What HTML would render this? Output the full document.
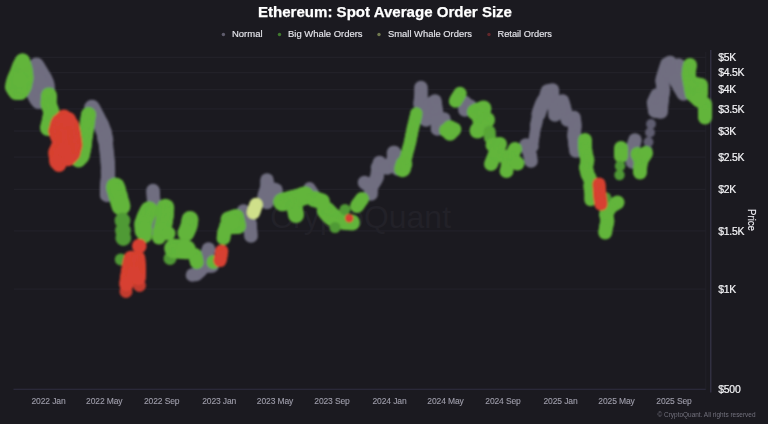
<!DOCTYPE html>
<html><head><meta charset="utf-8"><title>Ethereum: Spot Average Order Size</title>
<style>
html,body{margin:0;padding:0;background:#1b1a20;}
body{width:768px;height:424px;overflow:hidden;font-family:"Liberation Sans",sans-serif;}
svg{display:block;font-family:"Liberation Sans",sans-serif;}
.title{font-size:14.8px;font-weight:bold;fill:#ffffff;stroke:#ffffff;stroke-width:0.25px;}
.lg{font-size:9.9px;fill:#e6e6ec;stroke:#e6e6ec;stroke-width:0.15px;}
.yl{font-size:10.4px;fill:#f4f4f7;letter-spacing:-0.25px;stroke:#f4f4f7;stroke-width:0.2px;}
.xl{font-size:8.5px;fill:#a09fac;letter-spacing:-0.12px;stroke:#a09fac;stroke-width:0.1px;}
.wm{font-size:32px;fill:#222128;}
.cp{font-size:7px;fill:#72717d;}
.pr{font-size:10.5px;fill:#ececf1;stroke:#ececf1;stroke-width:0.15px;}
</style></head><body>
<svg width="768" height="424" viewBox="0 0 768 424">
<defs><filter id="b" x="-5%" y="-5%" width="110%" height="110%"><feGaussianBlur stdDeviation="0.9"/></filter>
<filter id="t" x="-5%" y="-20%" width="110%" height="140%"><feGaussianBlur stdDeviation="0.35"/></filter><filter id="t2" x="-100%" y="-100%" width="300%" height="300%"><feGaussianBlur stdDeviation="0.5"/></filter></defs>
<rect width="768" height="424" fill="#1b1a20"/>
<line x1="14" x2="706" y1="57.4" y2="57.4" stroke="#222128" stroke-width="1.3"/><line x1="14" x2="706" y1="72.6" y2="72.6" stroke="#222128" stroke-width="1.3"/><line x1="14" x2="706" y1="89.6" y2="89.6" stroke="#222128" stroke-width="1.3"/><line x1="14" x2="706" y1="108.8" y2="108.8" stroke="#222128" stroke-width="1.3"/><line x1="14" x2="706" y1="131.0" y2="131.0" stroke="#222128" stroke-width="1.3"/><line x1="14" x2="706" y1="157.2" y2="157.2" stroke="#222128" stroke-width="1.3"/><line x1="14" x2="706" y1="189.4" y2="189.4" stroke="#222128" stroke-width="1.3"/><line x1="14" x2="706" y1="230.8" y2="230.8" stroke="#222128" stroke-width="1.3"/><line x1="14" x2="706" y1="289.2" y2="289.2" stroke="#222128" stroke-width="1.3"/>
<line x1="13.5" x2="706" y1="389.2" y2="389.2" stroke="#302f42" stroke-width="1.1"/>
<line x1="705.8" x2="705.8" y1="52" y2="389.5" stroke="#222129" stroke-width="1"/>
<line x1="710.8" x2="710.8" y1="50" y2="392.5" stroke="#37364a" stroke-width="1.2"/>
<text x="270" y="227.5" class="wm" textLength="181" lengthAdjust="spacingAndGlyphs">CryptoQuant</text>
<g filter="url(#b)">
<g fill="#706e80">
<circle cx="36.5" cy="65.0" r="7.5"/>
<circle cx="37.8" cy="67.0" r="7.5"/>
<circle cx="39.0" cy="69.0" r="7.5"/>
<circle cx="40.5" cy="71.5" r="7.5"/>
<circle cx="42.0" cy="74.0" r="7.5"/>
<circle cx="43.5" cy="76.5" r="7.5"/>
<circle cx="45.0" cy="79.0" r="7.5"/>
<circle cx="46.0" cy="81.5" r="7.5"/>
<circle cx="47.0" cy="84.0" r="7.5"/>
<circle cx="47.2" cy="86.0" r="7.5"/>
<circle cx="47.3" cy="88.0" r="7.5"/>
<circle cx="47.5" cy="90.0" r="7.5"/>
<circle cx="37.0" cy="76.0" r="7.5"/>
<circle cx="38.0" cy="78.0" r="7.5"/>
<circle cx="39.0" cy="80.0" r="7.5"/>
<circle cx="40.0" cy="82.0" r="7.5"/>
<circle cx="40.7" cy="84.0" r="7.5"/>
<circle cx="41.3" cy="86.0" r="7.5"/>
<circle cx="42.0" cy="88.0" r="7.5"/>
<circle cx="32.0" cy="91.0" r="7.5"/>
<circle cx="34.0" cy="94.0" r="7.5"/>
<circle cx="35.0" cy="96.0" r="7.5"/>
<circle cx="36.0" cy="98.0" r="7.5"/>
<circle cx="37.2" cy="99.8" r="7.5"/>
<circle cx="38.5" cy="101.5" r="7.5"/>
<circle cx="40.3" cy="100.7" r="7.5"/>
<circle cx="42.2" cy="99.8" r="7.5"/>
<circle cx="44.0" cy="99.0" r="7.5"/>
</g>
<g fill="#706e80">
<circle cx="92.0" cy="107.5" r="7.8"/>
<circle cx="93.0" cy="109.4" r="7.8"/>
<circle cx="94.0" cy="111.2" r="7.8"/>
<circle cx="95.0" cy="113.1" r="7.8"/>
<circle cx="96.0" cy="115.0" r="7.8"/>
<circle cx="97.1" cy="117.1" r="7.8"/>
<circle cx="98.2" cy="119.2" r="7.8"/>
<circle cx="99.4" cy="121.4" r="7.8"/>
<circle cx="100.5" cy="123.5" r="7.8"/>
<circle cx="101.4" cy="125.6" r="7.8"/>
<circle cx="102.2" cy="127.8" r="7.8"/>
<circle cx="103.1" cy="129.9" r="7.8"/>
<circle cx="104.0" cy="132.0" r="7.8"/>
<circle cx="104.4" cy="134.1" r="7.8"/>
<circle cx="104.8" cy="136.2" r="7.8"/>
<circle cx="105.1" cy="138.4" r="7.8"/>
<circle cx="105.5" cy="140.5" r="7.8"/>
</g>
<g fill="#706e80">
<circle cx="105.5" cy="140.5" r="7.2"/>
<circle cx="105.8" cy="142.9" r="7.2"/>
<circle cx="106.0" cy="145.2" r="7.2"/>
<circle cx="106.2" cy="147.6" r="7.2"/>
<circle cx="106.5" cy="150.0" r="7.2"/>
<circle cx="106.8" cy="152.2" r="7.2"/>
<circle cx="107.0" cy="154.5" r="7.2"/>
<circle cx="107.2" cy="156.8" r="7.2"/>
<circle cx="107.5" cy="159.0" r="7.2"/>
<circle cx="107.6" cy="161.2" r="7.2"/>
<circle cx="107.8" cy="163.5" r="7.2"/>
<circle cx="107.9" cy="165.8" r="7.2"/>
<circle cx="108.0" cy="168.0" r="7.2"/>
<circle cx="108.0" cy="170.2" r="7.2"/>
<circle cx="108.0" cy="172.5" r="7.2"/>
<circle cx="108.0" cy="174.8" r="7.2"/>
<circle cx="108.0" cy="177.0" r="7.2"/>
<circle cx="107.8" cy="179.0" r="7.2"/>
<circle cx="107.6" cy="181.0" r="7.2"/>
<circle cx="107.4" cy="183.0" r="7.2"/>
<circle cx="107.2" cy="185.0" r="7.2"/>
<circle cx="107.0" cy="187.0" r="7.2"/>
<circle cx="107.0" cy="189.0" r="7.2"/>
<circle cx="107.0" cy="191.0" r="7.2"/>
<circle cx="107.0" cy="193.0" r="7.2"/>
<circle cx="107.0" cy="195.0" r="7.2"/>
</g>
<g fill="#706e80">
<circle cx="153.0" cy="190.5" r="6.8"/>
<circle cx="153.1" cy="192.6" r="6.8"/>
<circle cx="153.2" cy="194.8" r="6.8"/>
<circle cx="153.4" cy="196.9" r="6.8"/>
<circle cx="153.5" cy="199.0" r="6.8"/>
<circle cx="153.8" cy="201.2" r="6.8"/>
<circle cx="154.1" cy="203.4" r="6.8"/>
<circle cx="154.4" cy="205.6" r="6.8"/>
<circle cx="154.7" cy="207.8" r="6.8"/>
<circle cx="155.0" cy="210.0" r="6.8"/>
<circle cx="155.2" cy="212.0" r="6.8"/>
<circle cx="155.5" cy="214.0" r="6.8"/>
<circle cx="155.8" cy="216.0" r="6.8"/>
<circle cx="156.0" cy="218.0" r="6.8"/>
<circle cx="156.2" cy="220.0" r="6.8"/>
<circle cx="156.5" cy="222.0" r="6.8"/>
<circle cx="156.6" cy="224.2" r="6.8"/>
<circle cx="156.8" cy="226.5" r="6.8"/>
<circle cx="156.9" cy="228.8" r="6.8"/>
<circle cx="157.0" cy="231.0" r="6.8"/>
<circle cx="192.5" cy="275.0" r="6.8"/>
<circle cx="196.0" cy="274.5" r="6.8"/>
<circle cx="198.0" cy="272.8" r="6.8"/>
<circle cx="200.0" cy="271.0" r="6.8"/>
<circle cx="201.3" cy="269.3" r="6.8"/>
<circle cx="202.7" cy="267.7" r="6.8"/>
<circle cx="204.0" cy="266.0" r="6.8"/>
<circle cx="204.6" cy="263.8" r="6.8"/>
<circle cx="205.2" cy="261.5" r="6.8"/>
<circle cx="205.7" cy="259.2" r="6.8"/>
<circle cx="206.3" cy="257.0" r="6.8"/>
<circle cx="206.9" cy="255.0" r="6.8"/>
<circle cx="207.4" cy="253.0" r="6.8"/>
<circle cx="207.9" cy="251.0" r="6.8"/>
<circle cx="208.5" cy="249.0" r="6.8"/>
<circle cx="204.0" cy="266.0" r="6.8"/>
<circle cx="206.0" cy="266.0" r="6.8"/>
<circle cx="208.0" cy="266.0" r="6.8"/>
<circle cx="210.0" cy="266.0" r="6.8"/>
<circle cx="212.0" cy="266.0" r="6.8"/>
<circle cx="243.5" cy="211.0" r="6.8"/>
<circle cx="244.7" cy="213.0" r="6.8"/>
<circle cx="245.8" cy="215.0" r="6.8"/>
<circle cx="247.0" cy="217.0" r="6.8"/>
<circle cx="248.0" cy="219.0" r="6.8"/>
<circle cx="249.0" cy="221.0" r="6.8"/>
<circle cx="250.0" cy="223.0" r="6.8"/>
<circle cx="250.2" cy="225.3" r="6.8"/>
<circle cx="250.3" cy="227.7" r="6.8"/>
<circle cx="250.5" cy="230.0" r="6.8"/>
<circle cx="250.7" cy="232.0" r="6.8"/>
<circle cx="250.8" cy="234.0" r="6.8"/>
<circle cx="251.0" cy="236.0" r="6.8"/>
<circle cx="267.0" cy="180.0" r="6.8"/>
<circle cx="267.0" cy="182.5" r="6.8"/>
<circle cx="267.0" cy="185.0" r="6.8"/>
<circle cx="267.0" cy="187.5" r="6.8"/>
<circle cx="266.2" cy="189.6" r="6.8"/>
<circle cx="265.5" cy="191.8" r="6.8"/>
<circle cx="264.8" cy="193.9" r="6.8"/>
<circle cx="264.0" cy="196.0" r="6.8"/>
<circle cx="265.0" cy="198.2" r="6.8"/>
<circle cx="266.0" cy="200.3" r="6.8"/>
<circle cx="267.0" cy="202.5" r="6.8"/>
<circle cx="267.0" cy="187.5" r="6.8"/>
<circle cx="269.2" cy="188.1" r="6.8"/>
<circle cx="271.5" cy="188.8" r="6.8"/>
<circle cx="273.8" cy="189.4" r="6.8"/>
<circle cx="276.0" cy="190.0" r="6.8"/>
<circle cx="275.0" cy="191.9" r="6.8"/>
<circle cx="274.0" cy="193.8" r="6.8"/>
<circle cx="273.0" cy="195.6" r="6.8"/>
<circle cx="272.0" cy="197.5" r="6.8"/>
<circle cx="364.5" cy="182.5" r="6.8"/>
<circle cx="366.1" cy="183.8" r="6.8"/>
<circle cx="367.8" cy="185.0" r="6.8"/>
<circle cx="369.4" cy="186.2" r="6.8"/>
<circle cx="371.0" cy="187.5" r="6.8"/>
<circle cx="371.0" cy="189.7" r="6.8"/>
<circle cx="371.0" cy="191.8" r="6.8"/>
<circle cx="371.0" cy="194.0" r="6.8"/>
<circle cx="371.0" cy="187.5" r="6.8"/>
<circle cx="372.3" cy="185.3" r="6.8"/>
<circle cx="373.7" cy="183.2" r="6.8"/>
<circle cx="375.0" cy="181.0" r="6.8"/>
<circle cx="376.0" cy="179.2" r="6.8"/>
<circle cx="377.0" cy="177.5" r="6.8"/>
<circle cx="377.2" cy="175.5" r="6.8"/>
<circle cx="377.4" cy="173.5" r="6.8"/>
<circle cx="377.6" cy="171.5" r="6.8"/>
<circle cx="377.8" cy="169.5" r="6.8"/>
<circle cx="378.0" cy="167.5" r="6.8"/>
<circle cx="378.8" cy="165.0" r="6.8"/>
<circle cx="379.5" cy="162.5" r="6.8"/>
<circle cx="377.5" cy="167.5" r="6.8"/>
<circle cx="379.6" cy="167.1" r="6.8"/>
<circle cx="381.8" cy="166.8" r="6.8"/>
<circle cx="383.9" cy="166.4" r="6.8"/>
<circle cx="386.0" cy="166.0" r="6.8"/>
<circle cx="388.0" cy="165.1" r="6.8"/>
<circle cx="390.0" cy="164.2" r="6.8"/>
<circle cx="392.0" cy="163.4" r="6.8"/>
<circle cx="394.0" cy="162.5" r="6.8"/>
<circle cx="394.0" cy="160.5" r="6.8"/>
<circle cx="394.0" cy="158.5" r="6.8"/>
<circle cx="394.0" cy="156.5" r="6.8"/>
<circle cx="394.0" cy="154.5" r="6.8"/>
<circle cx="394.0" cy="152.5" r="6.8"/>
<circle cx="421.0" cy="87.5" r="6.8"/>
<circle cx="421.0" cy="90.0" r="6.8"/>
<circle cx="421.0" cy="92.5" r="6.8"/>
<circle cx="421.0" cy="95.0" r="6.8"/>
<circle cx="420.8" cy="97.2" r="6.8"/>
<circle cx="420.5" cy="99.5" r="6.8"/>
<circle cx="420.2" cy="101.8" r="6.8"/>
<circle cx="420.0" cy="104.0" r="6.8"/>
<circle cx="422.0" cy="105.2" r="6.8"/>
<circle cx="424.0" cy="106.3" r="6.8"/>
<circle cx="426.0" cy="107.5" r="6.8"/>
<circle cx="426.0" cy="109.6" r="6.8"/>
<circle cx="426.0" cy="111.7" r="6.8"/>
<circle cx="426.0" cy="113.8" r="6.8"/>
<circle cx="426.0" cy="115.8" r="6.8"/>
<circle cx="426.0" cy="117.9" r="6.8"/>
<circle cx="426.0" cy="120.0" r="6.8"/>
<circle cx="426.0" cy="107.5" r="6.8"/>
<circle cx="427.8" cy="106.2" r="6.8"/>
<circle cx="429.6" cy="104.9" r="6.8"/>
<circle cx="431.4" cy="103.6" r="6.8"/>
<circle cx="433.2" cy="102.3" r="6.8"/>
<circle cx="435.0" cy="101.0" r="6.8"/>
<circle cx="435.2" cy="103.0" r="6.8"/>
<circle cx="435.5" cy="105.0" r="6.8"/>
<circle cx="435.8" cy="107.0" r="6.8"/>
<circle cx="436.0" cy="109.0" r="6.8"/>
<circle cx="436.3" cy="111.2" r="6.8"/>
<circle cx="436.6" cy="113.4" r="6.8"/>
<circle cx="436.9" cy="115.6" r="6.8"/>
<circle cx="437.2" cy="117.8" r="6.8"/>
<circle cx="437.5" cy="120.0" r="6.8"/>
<circle cx="437.5" cy="122.2" r="6.8"/>
<circle cx="437.5" cy="124.5" r="6.8"/>
<circle cx="437.5" cy="126.8" r="6.8"/>
<circle cx="437.5" cy="129.0" r="6.8"/>
<circle cx="437.5" cy="120.0" r="6.8"/>
<circle cx="439.7" cy="119.7" r="6.8"/>
<circle cx="441.8" cy="119.3" r="6.8"/>
<circle cx="444.0" cy="119.0" r="6.8"/>
<circle cx="465.0" cy="102.5" r="6.8"/>
<circle cx="465.0" cy="105.0" r="6.8"/>
<circle cx="465.0" cy="107.5" r="6.8"/>
<circle cx="465.0" cy="110.0" r="6.8"/>
<circle cx="466.7" cy="108.7" r="6.8"/>
<circle cx="468.3" cy="107.3" r="6.8"/>
<circle cx="470.0" cy="106.0" r="6.8"/>
<circle cx="526.0" cy="145.0" r="6.8"/>
<circle cx="527.0" cy="147.2" r="6.8"/>
<circle cx="528.0" cy="149.5" r="6.8"/>
<circle cx="529.0" cy="151.8" r="6.8"/>
<circle cx="530.0" cy="154.0" r="6.8"/>
<circle cx="530.3" cy="156.3" r="6.8"/>
<circle cx="530.7" cy="158.7" r="6.8"/>
<circle cx="531.0" cy="161.0" r="6.8"/>
<circle cx="526.0" cy="146.0" r="6.8"/>
<circle cx="528.0" cy="146.0" r="6.8"/>
<circle cx="530.0" cy="146.0" r="6.8"/>
<circle cx="532.0" cy="146.0" r="6.8"/>
<circle cx="544.0" cy="102.5" r="6.8"/>
<circle cx="544.6" cy="100.6" r="6.8"/>
<circle cx="545.2" cy="98.7" r="6.8"/>
<circle cx="545.8" cy="96.8" r="6.8"/>
<circle cx="546.3" cy="94.8" r="6.8"/>
<circle cx="546.9" cy="92.9" r="6.8"/>
<circle cx="547.5" cy="91.0" r="6.8"/>
<circle cx="550.0" cy="90.5" r="6.8"/>
<circle cx="552.5" cy="90.0" r="6.8"/>
<circle cx="552.5" cy="92.5" r="6.8"/>
<circle cx="552.5" cy="95.0" r="6.8"/>
<circle cx="552.5" cy="97.5" r="6.8"/>
<circle cx="553.0" cy="99.5" r="6.8"/>
<circle cx="553.5" cy="101.5" r="6.8"/>
<circle cx="554.0" cy="103.5" r="6.8"/>
<circle cx="554.5" cy="105.5" r="6.8"/>
<circle cx="555.0" cy="107.5" r="6.8"/>
<circle cx="555.0" cy="110.0" r="6.8"/>
<circle cx="555.0" cy="112.5" r="6.8"/>
<circle cx="555.0" cy="115.0" r="6.8"/>
<circle cx="555.0" cy="107.5" r="6.8"/>
<circle cx="556.9" cy="105.9" r="6.8"/>
<circle cx="558.8" cy="104.2" r="6.8"/>
<circle cx="560.6" cy="102.6" r="6.8"/>
<circle cx="562.5" cy="101.0" r="6.8"/>
<circle cx="563.1" cy="103.2" r="6.8"/>
<circle cx="563.8" cy="105.5" r="6.8"/>
<circle cx="564.4" cy="107.8" r="6.8"/>
<circle cx="565.0" cy="110.0" r="6.8"/>
<circle cx="565.5" cy="112.0" r="6.8"/>
<circle cx="566.0" cy="114.0" r="6.8"/>
<circle cx="566.5" cy="116.0" r="6.8"/>
<circle cx="567.0" cy="118.0" r="6.8"/>
<circle cx="567.5" cy="120.0" r="6.8"/>
<circle cx="569.7" cy="119.2" r="6.8"/>
<circle cx="571.8" cy="118.3" r="6.8"/>
<circle cx="574.0" cy="117.5" r="6.8"/>
<circle cx="574.3" cy="120.0" r="6.8"/>
<circle cx="574.7" cy="122.5" r="6.8"/>
<circle cx="575.0" cy="125.0" r="6.8"/>
<circle cx="574.8" cy="127.0" r="6.8"/>
<circle cx="574.6" cy="129.0" r="6.8"/>
<circle cx="574.4" cy="131.0" r="6.8"/>
<circle cx="574.2" cy="133.0" r="6.8"/>
<circle cx="574.0" cy="135.0" r="6.8"/>
<circle cx="574.2" cy="137.2" r="6.8"/>
<circle cx="574.5" cy="139.5" r="6.8"/>
<circle cx="574.8" cy="141.8" r="6.8"/>
<circle cx="575.0" cy="144.0" r="6.8"/>
<circle cx="575.3" cy="146.3" r="6.8"/>
<circle cx="575.7" cy="148.7" r="6.8"/>
<circle cx="576.0" cy="151.0" r="6.8"/>
<circle cx="635.0" cy="140.0" r="6.8"/>
<circle cx="634.4" cy="142.2" r="6.8"/>
<circle cx="633.8" cy="144.5" r="6.8"/>
<circle cx="633.1" cy="146.8" r="6.8"/>
<circle cx="632.5" cy="149.0" r="6.8"/>
<circle cx="632.4" cy="151.1" r="6.8"/>
<circle cx="632.2" cy="153.2" r="6.8"/>
<circle cx="632.1" cy="155.4" r="6.8"/>
<circle cx="632.0" cy="157.5" r="6.8"/>
<circle cx="632.2" cy="159.8" r="6.8"/>
<circle cx="632.5" cy="162.0" r="6.8"/>
<circle cx="655.0" cy="111.0" r="6.8"/>
<circle cx="654.6" cy="108.9" r="6.8"/>
<circle cx="654.2" cy="106.8" r="6.8"/>
<circle cx="653.9" cy="104.6" r="6.8"/>
<circle cx="653.5" cy="102.5" r="6.8"/>
<circle cx="654.4" cy="100.6" r="6.8"/>
<circle cx="655.2" cy="98.8" r="6.8"/>
<circle cx="656.1" cy="96.9" r="6.8"/>
<circle cx="657.0" cy="95.0" r="6.8"/>
<circle cx="658.7" cy="96.7" r="6.8"/>
<circle cx="660.3" cy="98.3" r="6.8"/>
<circle cx="662.0" cy="100.0" r="6.8"/>
<circle cx="661.8" cy="102.0" r="6.8"/>
<circle cx="661.7" cy="104.0" r="6.8"/>
<circle cx="661.5" cy="106.0" r="6.8"/>
<circle cx="661.3" cy="108.0" r="6.8"/>
<circle cx="661.2" cy="110.0" r="6.8"/>
<circle cx="661.0" cy="112.0" r="6.8"/>
<circle cx="659.0" cy="111.7" r="6.8"/>
<circle cx="657.0" cy="111.3" r="6.8"/>
<circle cx="655.0" cy="111.0" r="6.8"/>
<circle cx="662.0" cy="100.0" r="6.8"/>
<circle cx="662.3" cy="98.0" r="6.8"/>
<circle cx="662.6" cy="96.0" r="6.8"/>
<circle cx="662.9" cy="94.0" r="6.8"/>
<circle cx="663.2" cy="92.0" r="6.8"/>
<circle cx="663.5" cy="90.0" r="6.8"/>
<circle cx="663.2" cy="88.0" r="6.8"/>
<circle cx="662.9" cy="86.0" r="6.8"/>
<circle cx="662.6" cy="84.0" r="6.8"/>
<circle cx="662.3" cy="82.0" r="6.8"/>
<circle cx="662.0" cy="80.0" r="6.8"/>
<circle cx="662.6" cy="78.0" r="6.8"/>
<circle cx="663.2" cy="76.0" r="6.8"/>
<circle cx="663.8" cy="74.0" r="6.8"/>
<circle cx="664.4" cy="72.0" r="6.8"/>
<circle cx="665.0" cy="70.0" r="6.8"/>
<circle cx="665.7" cy="68.0" r="6.8"/>
<circle cx="666.3" cy="66.0" r="6.8"/>
<circle cx="667.0" cy="64.0" r="6.8"/>
<circle cx="670.0" cy="62.5" r="6.8"/>
<circle cx="670.0" cy="62.5" r="6.8"/>
<circle cx="670.4" cy="64.5" r="6.8"/>
<circle cx="670.8" cy="66.5" r="6.8"/>
<circle cx="671.2" cy="68.5" r="6.8"/>
<circle cx="671.6" cy="70.5" r="6.8"/>
<circle cx="672.0" cy="72.5" r="6.8"/>
<circle cx="673.0" cy="74.6" r="6.8"/>
<circle cx="674.0" cy="76.8" r="6.8"/>
<circle cx="675.0" cy="78.9" r="6.8"/>
<circle cx="676.0" cy="81.0" r="6.8"/>
<circle cx="678.5" cy="65.0" r="6.8"/>
<circle cx="678.5" cy="67.0" r="6.8"/>
<circle cx="678.5" cy="69.0" r="6.8"/>
<circle cx="678.5" cy="71.0" r="6.8"/>
<circle cx="678.5" cy="73.0" r="6.8"/>
<circle cx="678.5" cy="75.0" r="6.8"/>
<circle cx="677.7" cy="77.0" r="6.8"/>
<circle cx="676.8" cy="79.0" r="6.8"/>
<circle cx="676.0" cy="81.0" r="6.8"/>
<circle cx="677.0" cy="82.8" r="6.8"/>
<circle cx="678.0" cy="84.5" r="6.8"/>
<circle cx="679.0" cy="86.2" r="6.8"/>
<circle cx="680.0" cy="88.0" r="6.8"/>
<circle cx="681.2" cy="90.0" r="6.8"/>
<circle cx="682.3" cy="92.0" r="6.8"/>
<circle cx="683.5" cy="94.0" r="6.8"/>
</g>
<g fill="#706e80">
<circle cx="309.5" cy="188.0" r="6"/>
<circle cx="310.8" cy="190.0" r="6"/>
<circle cx="312.2" cy="192.0" r="6"/>
<circle cx="313.5" cy="194.0" r="6"/>
</g>
<g fill="#706e80">
<circle cx="387.0" cy="167.5" r="7.3"/>
<circle cx="390.0" cy="166.0" r="7.3"/>
<circle cx="394.0" cy="153.0" r="7.3"/>
<circle cx="394.1" cy="155.2" r="7.3"/>
<circle cx="394.2" cy="157.5" r="7.3"/>
<circle cx="394.4" cy="159.8" r="7.3"/>
<circle cx="394.5" cy="162.0" r="7.3"/>
<circle cx="395.7" cy="164.2" r="7.3"/>
<circle cx="396.8" cy="166.3" r="7.3"/>
<circle cx="398.0" cy="168.5" r="7.3"/>
</g>
<g fill="#706e80">
<circle cx="533.5" cy="142.0" r="5.3"/>
<circle cx="533.8" cy="139.8" r="5.3"/>
<circle cx="534.1" cy="137.5" r="5.3"/>
<circle cx="534.5" cy="135.2" r="5.3"/>
<circle cx="534.8" cy="133.0" r="5.3"/>
<circle cx="535.1" cy="131.0" r="5.3"/>
<circle cx="535.4" cy="129.0" r="5.3"/>
<circle cx="535.7" cy="127.0" r="5.3"/>
<circle cx="536.0" cy="125.0" r="5.3"/>
</g>
<g fill="#706e80">
<circle cx="538.5" cy="114.0" r="7.2"/>
<circle cx="539.2" cy="112.0" r="7.2"/>
<circle cx="539.8" cy="110.0" r="7.2"/>
<circle cx="540.5" cy="108.0" r="7.2"/>
<circle cx="541.5" cy="105.7" r="7.2"/>
<circle cx="542.5" cy="103.3" r="7.2"/>
<circle cx="543.5" cy="101.0" r="7.2"/>
</g>
<g fill="#706e80">
<circle cx="536.0" cy="125.0" r="6"/>
<circle cx="536.5" cy="122.7" r="6"/>
<circle cx="537.0" cy="120.3" r="6"/>
<circle cx="537.5" cy="118.0" r="6"/>
</g>
<g fill="#5f5d70">
<circle cx="647.5" cy="150.0" r="4.9"/>
<circle cx="648.5" cy="142.0" r="4.9"/>
<circle cx="650.0" cy="132.5" r="4.9"/>
<circle cx="651.0" cy="124.0" r="4.9"/>
</g>
<g fill="#62b53b">
<circle cx="22.5" cy="61.0" r="7.6"/>
<circle cx="21.5" cy="62.8" r="7.6"/>
<circle cx="20.5" cy="64.7" r="7.6"/>
<circle cx="19.5" cy="66.5" r="7.6"/>
<circle cx="18.7" cy="68.8" r="7.6"/>
<circle cx="17.8" cy="71.2" r="7.6"/>
<circle cx="17.0" cy="73.5" r="7.6"/>
<circle cx="16.0" cy="75.7" r="7.6"/>
<circle cx="15.0" cy="77.8" r="7.6"/>
<circle cx="14.0" cy="80.0" r="7.6"/>
<circle cx="13.5" cy="82.3" r="7.6"/>
<circle cx="13.0" cy="84.7" r="7.6"/>
<circle cx="12.5" cy="87.0" r="7.6"/>
<circle cx="13.7" cy="88.8" r="7.6"/>
<circle cx="14.8" cy="90.7" r="7.6"/>
<circle cx="16.0" cy="92.5" r="7.6"/>
<circle cx="18.2" cy="92.5" r="7.6"/>
<circle cx="20.5" cy="92.5" r="7.6"/>
<circle cx="21.7" cy="90.7" r="7.6"/>
<circle cx="22.8" cy="88.8" r="7.6"/>
<circle cx="24.0" cy="87.0" r="7.6"/>
<circle cx="24.5" cy="84.8" r="7.6"/>
<circle cx="25.0" cy="82.5" r="7.6"/>
<circle cx="25.5" cy="80.2" r="7.6"/>
<circle cx="26.0" cy="78.0" r="7.6"/>
<circle cx="25.8" cy="75.8" r="7.6"/>
<circle cx="25.5" cy="73.5" r="7.6"/>
<circle cx="25.2" cy="71.2" r="7.6"/>
<circle cx="25.0" cy="69.0" r="7.6"/>
<circle cx="24.4" cy="67.0" r="7.6"/>
<circle cx="23.8" cy="65.0" r="7.6"/>
<circle cx="23.1" cy="63.0" r="7.6"/>
<circle cx="22.5" cy="61.0" r="7.6"/>
<circle cx="20.0" cy="80.0" r="7.6"/>
</g>
<g fill="#62b53b">
<circle cx="49.0" cy="95.5" r="8"/>
<circle cx="48.9" cy="97.6" r="8"/>
<circle cx="48.8" cy="99.8" r="8"/>
<circle cx="48.6" cy="101.9" r="8"/>
<circle cx="48.5" cy="104.0" r="8"/>
<circle cx="49.2" cy="106.0" r="8"/>
<circle cx="50.0" cy="108.0" r="8"/>
<circle cx="50.8" cy="110.0" r="8"/>
<circle cx="51.5" cy="112.0" r="8"/>
<circle cx="51.1" cy="114.0" r="8"/>
<circle cx="50.7" cy="116.0" r="8"/>
<circle cx="50.3" cy="118.0" r="8"/>
<circle cx="49.9" cy="120.0" r="8"/>
<circle cx="49.5" cy="122.0" r="8"/>
<circle cx="49.0" cy="124.0" r="8"/>
<circle cx="48.5" cy="126.0" r="8"/>
<circle cx="48.0" cy="128.0" r="8"/>
</g>
<g fill="#62b53b">
<circle cx="88.5" cy="114.5" r="7.5"/>
<circle cx="88.2" cy="116.7" r="7.5"/>
<circle cx="87.8" cy="118.8" r="7.5"/>
<circle cx="87.5" cy="121.0" r="7.5"/>
<circle cx="87.2" cy="123.0" r="7.5"/>
<circle cx="87.0" cy="125.0" r="7.5"/>
<circle cx="86.8" cy="127.0" r="7.5"/>
<circle cx="86.5" cy="129.0" r="7.5"/>
<circle cx="86.1" cy="131.4" r="7.5"/>
<circle cx="85.8" cy="133.8" r="7.5"/>
<circle cx="85.4" cy="136.1" r="7.5"/>
<circle cx="85.0" cy="138.5" r="7.5"/>
<circle cx="84.8" cy="140.8" r="7.5"/>
<circle cx="84.5" cy="143.0" r="7.5"/>
<circle cx="84.2" cy="145.2" r="7.5"/>
<circle cx="84.0" cy="147.5" r="7.5"/>
<circle cx="83.5" cy="149.8" r="7.5"/>
<circle cx="83.0" cy="152.0" r="7.5"/>
<circle cx="82.5" cy="154.2" r="7.5"/>
<circle cx="82.0" cy="156.5" r="7.5"/>
<circle cx="80.2" cy="158.2" r="7.5"/>
<circle cx="78.5" cy="160.0" r="7.5"/>
</g>
<g fill="#62b53b">
<circle cx="115.5" cy="187.0" r="9.5"/>
<circle cx="116.2" cy="189.3" r="9.5"/>
<circle cx="116.8" cy="191.7" r="9.5"/>
<circle cx="117.5" cy="194.0" r="9.5"/>
<circle cx="118.2" cy="196.3" r="9.5"/>
<circle cx="118.8" cy="198.7" r="9.5"/>
<circle cx="119.5" cy="201.0" r="9.5"/>
<circle cx="120.2" cy="203.5" r="9.5"/>
<circle cx="121.0" cy="206.0" r="9.5"/>
</g>
<g fill="#4f9a34">
<circle cx="122.5" cy="220.5" r="7.9"/>
<circle cx="123.0" cy="230.5" r="7.9"/>
<circle cx="123.3" cy="238.0" r="7.9"/>
</g>
<g fill="#4f9a34">
<circle cx="120.8" cy="259.5" r="6"/>
</g>
<g fill="#62b53b">
<circle cx="149.0" cy="210.0" r="8.8"/>
<circle cx="148.0" cy="212.0" r="8.8"/>
<circle cx="147.0" cy="214.0" r="8.8"/>
<circle cx="146.0" cy="216.0" r="8.8"/>
<circle cx="145.2" cy="218.0" r="8.8"/>
<circle cx="144.5" cy="220.0" r="8.8"/>
<circle cx="143.8" cy="222.0" r="8.8"/>
<circle cx="143.0" cy="224.0" r="8.8"/>
<circle cx="143.2" cy="226.3" r="8.8"/>
<circle cx="143.3" cy="228.7" r="8.8"/>
<circle cx="143.5" cy="231.0" r="8.8"/>
<circle cx="165.5" cy="207.5" r="8.8"/>
<circle cx="165.4" cy="209.6" r="8.8"/>
<circle cx="165.2" cy="211.8" r="8.8"/>
<circle cx="165.1" cy="213.9" r="8.8"/>
<circle cx="165.0" cy="216.0" r="8.8"/>
<circle cx="164.6" cy="218.2" r="8.8"/>
<circle cx="164.2" cy="220.5" r="8.8"/>
<circle cx="163.9" cy="222.8" r="8.8"/>
<circle cx="163.5" cy="225.0" r="8.8"/>
<circle cx="162.8" cy="227.3" r="8.8"/>
<circle cx="162.2" cy="229.7" r="8.8"/>
<circle cx="161.5" cy="232.0" r="8.8"/>
</g>
<g fill="#62b53b">
<circle cx="145.0" cy="236.0" r="7"/>
<circle cx="159.0" cy="237.5" r="7"/>
<circle cx="168.5" cy="233.5" r="7"/>
<circle cx="195.0" cy="255.0" r="7"/>
<circle cx="195.6" cy="257.3" r="7"/>
<circle cx="196.2" cy="259.7" r="7"/>
<circle cx="196.8" cy="262.0" r="7"/>
</g>
<g fill="#4f9a34">
<circle cx="170.0" cy="258.5" r="6.5"/>
</g>
<g fill="#62b53b">
<circle cx="190.0" cy="219.5" r="8.5"/>
<circle cx="189.7" cy="221.7" r="8.5"/>
<circle cx="189.3" cy="223.8" r="8.5"/>
<circle cx="189.0" cy="226.0" r="8.5"/>
<circle cx="188.0" cy="228.3" r="8.5"/>
<circle cx="187.0" cy="230.7" r="8.5"/>
<circle cx="186.0" cy="233.0" r="8.5"/>
</g>
<g fill="#62b53b">
<circle cx="174.0" cy="248.5" r="9.8"/>
<circle cx="176.0" cy="248.7" r="9.8"/>
<circle cx="178.0" cy="248.8" r="9.8"/>
<circle cx="180.0" cy="249.0" r="9.8"/>
<circle cx="182.0" cy="249.2" r="9.8"/>
<circle cx="184.0" cy="249.3" r="9.8"/>
<circle cx="186.0" cy="249.5" r="9.8"/>
</g>
<g fill="#62b53b">
<circle cx="282.5" cy="202.0" r="9.3"/>
<circle cx="285.0" cy="201.3" r="9.3"/>
<circle cx="287.5" cy="200.7" r="9.3"/>
<circle cx="290.0" cy="200.0" r="9.3"/>
<circle cx="292.0" cy="199.5" r="9.3"/>
<circle cx="294.0" cy="199.0" r="9.3"/>
<circle cx="296.0" cy="198.5" r="9.3"/>
<circle cx="298.0" cy="198.0" r="9.3"/>
<circle cx="300.3" cy="197.2" r="9.3"/>
<circle cx="302.7" cy="196.3" r="9.3"/>
<circle cx="305.0" cy="195.5" r="9.3"/>
<circle cx="326.0" cy="210.5" r="9.3"/>
<circle cx="327.7" cy="212.3" r="9.3"/>
<circle cx="329.3" cy="214.2" r="9.3"/>
<circle cx="331.0" cy="216.0" r="9.3"/>
<circle cx="332.8" cy="217.1" r="9.3"/>
<circle cx="334.5" cy="218.2" r="9.3"/>
<circle cx="336.2" cy="219.4" r="9.3"/>
<circle cx="338.0" cy="220.5" r="9.3"/>
</g>
<g fill="#62b53b">
<circle cx="228.5" cy="219.5" r="8"/>
<circle cx="231.0" cy="218.7" r="8"/>
<circle cx="233.5" cy="217.8" r="8"/>
<circle cx="236.0" cy="217.0" r="8"/>
<circle cx="236.5" cy="219.2" r="8"/>
<circle cx="237.0" cy="221.5" r="8"/>
<circle cx="237.5" cy="223.8" r="8"/>
<circle cx="238.0" cy="226.0" r="8"/>
<circle cx="235.8" cy="226.1" r="8"/>
<circle cx="233.6" cy="226.2" r="8"/>
<circle cx="231.4" cy="226.3" r="8"/>
<circle cx="229.2" cy="226.4" r="8"/>
<circle cx="227.0" cy="226.5" r="8"/>
<circle cx="228.7" cy="225.0" r="8"/>
<circle cx="230.3" cy="223.5" r="8"/>
<circle cx="232.0" cy="222.0" r="8"/>
<circle cx="294.5" cy="206.0" r="8"/>
<circle cx="294.9" cy="208.2" r="8"/>
<circle cx="295.2" cy="210.5" r="8"/>
<circle cx="295.6" cy="212.8" r="8"/>
<circle cx="296.0" cy="215.0" r="8"/>
<circle cx="314.0" cy="199.0" r="8"/>
<circle cx="316.0" cy="199.6" r="8"/>
<circle cx="318.0" cy="200.2" r="8"/>
<circle cx="320.0" cy="200.9" r="8"/>
<circle cx="322.0" cy="201.5" r="8"/>
<circle cx="338.0" cy="220.5" r="8"/>
<circle cx="340.3" cy="221.0" r="8"/>
<circle cx="342.7" cy="221.5" r="8"/>
<circle cx="345.0" cy="222.0" r="8"/>
<circle cx="347.3" cy="222.2" r="8"/>
<circle cx="349.7" cy="222.3" r="8"/>
<circle cx="352.0" cy="222.5" r="8"/>
</g>
<g fill="#4f9a34">
<circle cx="335.0" cy="227.5" r="5.5"/>
<circle cx="345.0" cy="209.5" r="5.5"/>
</g>
<g fill="#62b53b">
<circle cx="402.5" cy="169.0" r="8.3"/>
<circle cx="403.2" cy="166.5" r="8.3"/>
<circle cx="404.0" cy="164.0" r="8.3"/>
</g>
<g fill="#62b53b">
<circle cx="404.0" cy="164.0" r="6.2"/>
<circle cx="404.7" cy="161.8" r="6.2"/>
<circle cx="405.3" cy="159.7" r="6.2"/>
<circle cx="406.0" cy="157.5" r="6.2"/>
<circle cx="406.6" cy="155.4" r="6.2"/>
<circle cx="407.1" cy="153.2" r="6.2"/>
<circle cx="407.7" cy="151.1" r="6.2"/>
<circle cx="408.3" cy="148.9" r="6.2"/>
<circle cx="408.9" cy="146.8" r="6.2"/>
<circle cx="409.4" cy="144.6" r="6.2"/>
<circle cx="410.0" cy="142.5" r="6.2"/>
<circle cx="410.4" cy="140.4" r="6.2"/>
<circle cx="410.8" cy="138.3" r="6.2"/>
<circle cx="411.2" cy="136.2" r="6.2"/>
<circle cx="411.7" cy="134.2" r="6.2"/>
<circle cx="412.1" cy="132.1" r="6.2"/>
<circle cx="412.5" cy="130.0" r="6.2"/>
<circle cx="413.0" cy="128.0" r="6.2"/>
<circle cx="413.5" cy="126.0" r="6.2"/>
<circle cx="414.0" cy="124.0" r="6.2"/>
<circle cx="414.5" cy="122.0" r="6.2"/>
<circle cx="415.0" cy="120.0" r="6.2"/>
<circle cx="415.4" cy="117.8" r="6.2"/>
<circle cx="415.9" cy="115.7" r="6.2"/>
<circle cx="416.3" cy="113.5" r="6.2"/>
</g>
<g fill="#62b53b">
<circle cx="475.0" cy="112.0" r="8"/>
<circle cx="477.1" cy="111.1" r="8"/>
<circle cx="479.2" cy="110.2" r="8"/>
<circle cx="481.4" cy="109.4" r="8"/>
<circle cx="483.5" cy="108.5" r="8"/>
<circle cx="482.8" cy="110.6" r="8"/>
<circle cx="482.1" cy="112.7" r="8"/>
<circle cx="481.4" cy="114.8" r="8"/>
<circle cx="480.7" cy="116.9" r="8"/>
<circle cx="480.0" cy="119.0" r="8"/>
<circle cx="482.3" cy="119.3" r="8"/>
<circle cx="484.7" cy="119.7" r="8"/>
<circle cx="487.0" cy="120.0" r="8"/>
<circle cx="485.6" cy="121.5" r="8"/>
<circle cx="484.3" cy="123.0" r="8"/>
<circle cx="482.9" cy="124.5" r="8"/>
<circle cx="481.6" cy="126.0" r="8"/>
<circle cx="480.2" cy="127.5" r="8"/>
<circle cx="478.9" cy="129.0" r="8"/>
<circle cx="477.5" cy="130.5" r="8"/>
</g>
<g fill="#62b53b">
<circle cx="450.0" cy="127.5" r="7.3"/>
<circle cx="450.0" cy="129.5" r="7.3"/>
<circle cx="450.0" cy="131.5" r="7.3"/>
<circle cx="450.0" cy="133.5" r="7.3"/>
<circle cx="452.0" cy="131.5" r="7.3"/>
<circle cx="454.0" cy="129.5" r="7.3"/>
<circle cx="451.5" cy="129.8" r="7.3"/>
<circle cx="449.0" cy="130.2" r="7.3"/>
<circle cx="446.5" cy="130.5" r="7.3"/>
</g>
<g fill="#62b53b">
<circle cx="460.0" cy="93.5" r="6.7"/>
<circle cx="458.9" cy="95.4" r="6.7"/>
<circle cx="457.8" cy="97.2" r="6.7"/>
<circle cx="456.6" cy="99.1" r="6.7"/>
<circle cx="455.5" cy="101.0" r="6.7"/>
</g>
<g fill="#62b53b">
<circle cx="506.5" cy="171.0" r="7"/>
</g>
<g fill="#62b53b">
<circle cx="589.5" cy="186.0" r="6.2"/>
<circle cx="589.8" cy="188.3" r="6.2"/>
<circle cx="590.2" cy="190.7" r="6.2"/>
<circle cx="590.5" cy="193.0" r="6.2"/>
<circle cx="590.5" cy="195.3" r="6.2"/>
<circle cx="590.5" cy="197.7" r="6.2"/>
<circle cx="590.5" cy="200.0" r="6.2"/>
</g>
<g fill="#58a637">
<circle cx="489.6" cy="131.5" r="6"/>
<circle cx="489.7" cy="133.5" r="6"/>
<circle cx="489.7" cy="135.5" r="6"/>
<circle cx="489.8" cy="137.5" r="6"/>
</g>
<g fill="#62b53b">
<circle cx="213.5" cy="262.0" r="7"/>
<circle cx="223.5" cy="238.0" r="7"/>
<circle cx="223.8" cy="235.7" r="7"/>
<circle cx="224.2" cy="233.3" r="7"/>
<circle cx="224.5" cy="231.0" r="7"/>
<circle cx="357.0" cy="206.0" r="7"/>
<circle cx="358.2" cy="204.2" r="7"/>
<circle cx="359.5" cy="202.5" r="7"/>
<circle cx="360.8" cy="200.8" r="7"/>
<circle cx="362.0" cy="199.0" r="7"/>
<circle cx="492.5" cy="145.0" r="7"/>
<circle cx="495.0" cy="144.7" r="7"/>
<circle cx="497.5" cy="144.3" r="7"/>
<circle cx="500.0" cy="144.0" r="7"/>
<circle cx="499.0" cy="146.0" r="7"/>
<circle cx="498.0" cy="148.0" r="7"/>
<circle cx="497.0" cy="150.0" r="7"/>
<circle cx="496.0" cy="152.0" r="7"/>
<circle cx="495.0" cy="154.0" r="7"/>
<circle cx="494.2" cy="156.0" r="7"/>
<circle cx="493.4" cy="158.0" r="7"/>
<circle cx="492.6" cy="160.0" r="7"/>
<circle cx="491.8" cy="162.0" r="7"/>
<circle cx="491.0" cy="164.0" r="7"/>
<circle cx="495.0" cy="154.0" r="7"/>
<circle cx="497.5" cy="154.7" r="7"/>
<circle cx="500.0" cy="155.3" r="7"/>
<circle cx="502.5" cy="156.0" r="7"/>
<circle cx="504.6" cy="156.4" r="7"/>
<circle cx="506.8" cy="156.8" r="7"/>
<circle cx="508.9" cy="157.1" r="7"/>
<circle cx="511.0" cy="157.5" r="7"/>
<circle cx="512.0" cy="155.4" r="7"/>
<circle cx="513.0" cy="153.2" r="7"/>
<circle cx="514.0" cy="151.1" r="7"/>
<circle cx="515.0" cy="149.0" r="7"/>
<circle cx="511.0" cy="157.5" r="7"/>
<circle cx="510.1" cy="159.6" r="7"/>
<circle cx="509.2" cy="161.8" r="7"/>
<circle cx="508.4" cy="163.9" r="7"/>
<circle cx="507.5" cy="166.0" r="7"/>
<circle cx="511.0" cy="157.5" r="7"/>
<circle cx="512.6" cy="159.0" r="7"/>
<circle cx="514.2" cy="160.5" r="7"/>
<circle cx="515.9" cy="162.0" r="7"/>
<circle cx="517.5" cy="163.5" r="7"/>
<circle cx="585.0" cy="140.0" r="7"/>
<circle cx="585.0" cy="142.5" r="7"/>
<circle cx="585.0" cy="145.0" r="7"/>
<circle cx="585.0" cy="147.5" r="7"/>
<circle cx="585.3" cy="150.0" r="7"/>
<circle cx="585.7" cy="152.5" r="7"/>
<circle cx="586.0" cy="155.0" r="7"/>
<circle cx="586.8" cy="157.5" r="7"/>
<circle cx="587.5" cy="160.0" r="7"/>
<circle cx="587.0" cy="162.5" r="7"/>
<circle cx="586.5" cy="165.0" r="7"/>
<circle cx="586.0" cy="167.5" r="7"/>
<circle cx="586.5" cy="169.7" r="7"/>
<circle cx="587.0" cy="171.8" r="7"/>
<circle cx="587.5" cy="174.0" r="7"/>
<circle cx="588.8" cy="176.5" r="7"/>
<circle cx="590.0" cy="179.0" r="7"/>
<circle cx="621.0" cy="148.0" r="7"/>
<circle cx="621.0" cy="150.0" r="7"/>
<circle cx="621.0" cy="152.0" r="7"/>
<circle cx="621.0" cy="154.0" r="7"/>
<circle cx="621.0" cy="156.0" r="7"/>
<circle cx="637.5" cy="154.0" r="7"/>
<circle cx="638.7" cy="156.3" r="7"/>
<circle cx="639.8" cy="158.7" r="7"/>
<circle cx="641.0" cy="161.0" r="7"/>
<circle cx="642.2" cy="159.0" r="7"/>
<circle cx="643.5" cy="157.0" r="7"/>
<circle cx="644.8" cy="155.0" r="7"/>
<circle cx="646.0" cy="153.0" r="7"/>
<circle cx="641.0" cy="161.0" r="7"/>
<circle cx="640.8" cy="163.2" r="7"/>
<circle cx="640.5" cy="165.5" r="7"/>
<circle cx="640.2" cy="167.8" r="7"/>
<circle cx="640.0" cy="170.0" r="7"/>
<circle cx="640.0" cy="172.5" r="7"/>
<circle cx="690.0" cy="65.0" r="7"/>
<circle cx="689.6" cy="67.2" r="7"/>
<circle cx="689.2" cy="69.5" r="7"/>
<circle cx="688.9" cy="71.8" r="7"/>
<circle cx="688.5" cy="74.0" r="7"/>
<circle cx="688.9" cy="76.1" r="7"/>
<circle cx="689.2" cy="78.2" r="7"/>
<circle cx="689.6" cy="80.4" r="7"/>
<circle cx="690.0" cy="82.5" r="7"/>
<circle cx="690.4" cy="84.8" r="7"/>
<circle cx="690.8" cy="87.1" r="7"/>
<circle cx="691.2" cy="89.4" r="7"/>
<circle cx="691.6" cy="91.7" r="7"/>
<circle cx="692.0" cy="94.0" r="7"/>
<circle cx="693.6" cy="95.5" r="7"/>
<circle cx="695.2" cy="97.0" r="7"/>
<circle cx="696.9" cy="98.5" r="7"/>
<circle cx="698.5" cy="100.0" r="7"/>
<circle cx="700.7" cy="101.3" r="7"/>
<circle cx="702.8" cy="102.7" r="7"/>
<circle cx="705.0" cy="104.0" r="7"/>
<circle cx="705.0" cy="106.1" r="7"/>
<circle cx="705.0" cy="108.2" r="7"/>
<circle cx="705.0" cy="110.4" r="7"/>
<circle cx="705.0" cy="112.5" r="7"/>
<circle cx="705.0" cy="115.0" r="7"/>
<circle cx="705.0" cy="117.5" r="7"/>
<circle cx="690.0" cy="82.5" r="7"/>
<circle cx="692.5" cy="83.2" r="7"/>
<circle cx="695.0" cy="84.0" r="7"/>
<circle cx="697.0" cy="84.3" r="7"/>
<circle cx="699.0" cy="84.7" r="7"/>
<circle cx="701.0" cy="85.0" r="7"/>
<circle cx="701.0" cy="87.2" r="7"/>
<circle cx="701.0" cy="89.5" r="7"/>
<circle cx="701.0" cy="91.8" r="7"/>
<circle cx="701.0" cy="94.0" r="7"/>
<circle cx="700.2" cy="96.0" r="7"/>
<circle cx="699.3" cy="98.0" r="7"/>
<circle cx="698.5" cy="100.0" r="7"/>
<circle cx="617.5" cy="202.5" r="7"/>
<circle cx="615.0" cy="204.0" r="7"/>
<circle cx="613.0" cy="205.0" r="7"/>
<circle cx="611.0" cy="206.0" r="7"/>
<circle cx="609.8" cy="208.0" r="7"/>
<circle cx="608.5" cy="210.0" r="7"/>
<circle cx="607.2" cy="212.0" r="7"/>
<circle cx="606.0" cy="214.0" r="7"/>
<circle cx="606.5" cy="216.3" r="7"/>
<circle cx="607.0" cy="218.7" r="7"/>
<circle cx="607.5" cy="221.0" r="7"/>
<circle cx="607.0" cy="223.2" r="7"/>
<circle cx="606.5" cy="225.3" r="7"/>
<circle cx="606.0" cy="227.5" r="7"/>
<circle cx="605.6" cy="230.0" r="7"/>
<circle cx="605.2" cy="232.5" r="7"/>
</g>
<g fill="#4f9a34">
<circle cx="620.0" cy="166.0" r="5.2"/>
<circle cx="619.5" cy="175.0" r="5.2"/>
<circle cx="606.0" cy="197.5" r="5.2"/>
</g>
<g fill="#cfe08a">
<circle cx="256.0" cy="204.5" r="6.8"/>
<circle cx="255.4" cy="206.5" r="6.8"/>
<circle cx="254.8" cy="208.5" r="6.8"/>
<circle cx="254.1" cy="210.5" r="6.8"/>
<circle cx="253.5" cy="212.5" r="6.8"/>
</g>
<g fill="#d74130">
<circle cx="64.0" cy="117.0" r="7.5"/>
<circle cx="62.5" cy="118.7" r="7.5"/>
<circle cx="61.0" cy="120.3" r="7.5"/>
<circle cx="59.5" cy="121.9" r="7.5"/>
<circle cx="58.0" cy="123.6" r="7.5"/>
<circle cx="57.4" cy="125.6" r="7.5"/>
<circle cx="56.9" cy="127.6" r="7.5"/>
<circle cx="56.3" cy="129.6" r="7.5"/>
<circle cx="55.7" cy="131.6" r="7.5"/>
<circle cx="56.5" cy="133.5" r="7.5"/>
<circle cx="57.2" cy="135.4" r="7.5"/>
<circle cx="58.0" cy="137.3" r="7.5"/>
<circle cx="58.7" cy="139.2" r="7.5"/>
<circle cx="59.5" cy="141.1" r="7.5"/>
<circle cx="60.2" cy="143.0" r="7.5"/>
<circle cx="59.3" cy="144.8" r="7.5"/>
<circle cx="58.4" cy="146.6" r="7.5"/>
<circle cx="57.5" cy="148.4" r="7.5"/>
<circle cx="56.6" cy="150.2" r="7.5"/>
<circle cx="55.7" cy="152.0" r="7.5"/>
<circle cx="55.9" cy="154.0" r="7.5"/>
<circle cx="56.1" cy="156.0" r="7.5"/>
<circle cx="56.4" cy="158.0" r="7.5"/>
<circle cx="56.6" cy="160.0" r="7.5"/>
<circle cx="56.8" cy="162.0" r="7.5"/>
<circle cx="59.0" cy="164.4" r="7.5"/>
<circle cx="66.0" cy="119.0" r="7.5"/>
<circle cx="67.4" cy="120.5" r="7.5"/>
<circle cx="68.8" cy="121.9" r="7.5"/>
<circle cx="70.2" cy="123.3" r="7.5"/>
<circle cx="71.6" cy="124.8" r="7.5"/>
<circle cx="72.0" cy="127.0" r="7.5"/>
<circle cx="72.5" cy="129.3" r="7.5"/>
<circle cx="72.9" cy="131.5" r="7.5"/>
<circle cx="73.4" cy="133.8" r="7.5"/>
<circle cx="73.8" cy="136.0" r="7.5"/>
<circle cx="74.1" cy="138.2" r="7.5"/>
<circle cx="74.4" cy="140.5" r="7.5"/>
<circle cx="74.7" cy="142.8" r="7.5"/>
<circle cx="75.0" cy="145.0" r="7.5"/>
<circle cx="74.4" cy="147.2" r="7.5"/>
<circle cx="73.8" cy="149.5" r="7.5"/>
<circle cx="73.3" cy="151.8" r="7.5"/>
<circle cx="72.7" cy="154.0" r="7.5"/>
<circle cx="71.1" cy="155.6" r="7.5"/>
<circle cx="69.6" cy="157.2" r="7.5"/>
<circle cx="68.0" cy="158.8" r="7.5"/>
<circle cx="64.0" cy="128.0" r="7.5"/>
<circle cx="64.2" cy="130.0" r="7.5"/>
<circle cx="64.3" cy="132.0" r="7.5"/>
<circle cx="64.5" cy="134.0" r="7.5"/>
<circle cx="64.7" cy="136.0" r="7.5"/>
<circle cx="64.8" cy="138.0" r="7.5"/>
<circle cx="65.0" cy="140.0" r="7.5"/>
<circle cx="64.8" cy="142.0" r="7.5"/>
<circle cx="64.6" cy="144.0" r="7.5"/>
<circle cx="64.4" cy="146.0" r="7.5"/>
<circle cx="64.2" cy="148.0" r="7.5"/>
<circle cx="64.0" cy="150.0" r="7.5"/>
<circle cx="59.0" cy="121.5" r="7.5"/>
<circle cx="61.4" cy="121.0" r="7.5"/>
<circle cx="63.8" cy="120.5" r="7.5"/>
<circle cx="66.1" cy="120.0" r="7.5"/>
<circle cx="68.5" cy="119.5" r="7.5"/>
</g>
<g fill="#c23a2e">
<circle cx="126.0" cy="291.5" r="6.5"/>
<circle cx="139.5" cy="285.5" r="6.5"/>
</g>
<g fill="#d74130">
<circle cx="139.3" cy="246.0" r="7.3"/>
<circle cx="131.0" cy="258.0" r="7.3"/>
<circle cx="130.5" cy="260.2" r="7.3"/>
<circle cx="130.0" cy="262.5" r="7.3"/>
<circle cx="129.5" cy="264.8" r="7.3"/>
<circle cx="129.0" cy="267.0" r="7.3"/>
<circle cx="128.6" cy="269.2" r="7.3"/>
<circle cx="128.2" cy="271.5" r="7.3"/>
<circle cx="127.9" cy="273.8" r="7.3"/>
<circle cx="127.5" cy="276.0" r="7.3"/>
<circle cx="127.2" cy="278.0" r="7.3"/>
<circle cx="127.0" cy="280.0" r="7.3"/>
<circle cx="126.8" cy="282.0" r="7.3"/>
<circle cx="126.5" cy="284.0" r="7.3"/>
<circle cx="138.0" cy="258.0" r="7.3"/>
<circle cx="138.2" cy="260.0" r="7.3"/>
<circle cx="138.3" cy="262.0" r="7.3"/>
<circle cx="138.5" cy="264.0" r="7.3"/>
<circle cx="138.6" cy="266.0" r="7.3"/>
<circle cx="138.8" cy="268.0" r="7.3"/>
<circle cx="138.7" cy="270.0" r="7.3"/>
<circle cx="138.7" cy="272.0" r="7.3"/>
<circle cx="138.6" cy="274.0" r="7.3"/>
<circle cx="138.6" cy="276.0" r="7.3"/>
<circle cx="138.5" cy="278.0" r="7.3"/>
<circle cx="134.0" cy="262.0" r="7.3"/>
<circle cx="134.0" cy="264.2" r="7.3"/>
<circle cx="134.0" cy="266.3" r="7.3"/>
<circle cx="134.0" cy="268.5" r="7.3"/>
<circle cx="134.0" cy="270.7" r="7.3"/>
<circle cx="134.0" cy="272.8" r="7.3"/>
<circle cx="134.0" cy="275.0" r="7.3"/>
</g>
<g fill="#d74130">
<circle cx="221.7" cy="251.0" r="6.6"/>
<circle cx="221.3" cy="253.5" r="6.6"/>
<circle cx="221.0" cy="256.0" r="6.6"/>
<circle cx="220.5" cy="258.2" r="6.6"/>
<circle cx="220.0" cy="260.5" r="6.6"/>
<circle cx="599.0" cy="184.0" r="6.6"/>
<circle cx="599.2" cy="186.3" r="6.6"/>
<circle cx="599.3" cy="188.7" r="6.6"/>
<circle cx="599.5" cy="191.0" r="6.6"/>
<circle cx="599.7" cy="193.2" r="6.6"/>
<circle cx="599.8" cy="195.3" r="6.6"/>
<circle cx="600.0" cy="197.5" r="6.6"/>
<circle cx="600.3" cy="199.7" r="6.6"/>
<circle cx="600.7" cy="201.8" r="6.6"/>
<circle cx="601.0" cy="204.0" r="6.6"/>
</g>
<g fill="#d74130">
<circle cx="349.2" cy="218.2" r="4.2"/>
</g>
</g>
<g filter="url(#t)">
<text x="258" y="17.4" class="title" textLength="254" lengthAdjust="spacingAndGlyphs">Ethereum: Spot Average Order Size</text>
<circle cx="223.4" cy="34.5" r="1.7" fill="#5e5c6c" filter="url(#t2)"/><text x="232" y="37.1" class="lg" textLength="30.5" lengthAdjust="spacingAndGlyphs">Normal</text>
<circle cx="279.5" cy="34.5" r="1.7" fill="#3f7a2d" filter="url(#t2)"/><text x="288" y="37.1" class="lg" textLength="74.5" lengthAdjust="spacingAndGlyphs">Big Whale Orders</text>
<circle cx="379" cy="34.5" r="1.7" fill="#717a50" filter="url(#t2)"/><text x="388" y="37.1" class="lg" textLength="84" lengthAdjust="spacingAndGlyphs">Small Whale Orders</text>
<circle cx="489" cy="34.5" r="1.7" fill="#63272a" filter="url(#t2)"/><text x="497.5" y="37.1" class="lg" textLength="54.5" lengthAdjust="spacingAndGlyphs">Retail Orders</text>
<text x="718.3" y="61.1" class="yl">$5K</text><text x="718.3" y="76.3" class="yl">$4.5K</text><text x="718.3" y="93.3" class="yl">$4K</text><text x="718.3" y="112.5" class="yl">$3.5K</text><text x="718.3" y="134.7" class="yl">$3K</text><text x="718.3" y="160.9" class="yl">$2.5K</text><text x="718.3" y="193.1" class="yl">$2K</text><text x="718.3" y="234.5" class="yl">$1.5K</text><text x="718.3" y="292.9" class="yl">$1K</text><text x="718.3" y="392.7" class="yl">$500</text>
<text x="48.5" y="404.2" class="xl" text-anchor="middle">2022 Jan</text><text x="104.3" y="404.2" class="xl" text-anchor="middle">2022 May</text><text x="161.7" y="404.2" class="xl" text-anchor="middle">2022 Sep</text><text x="219.2" y="404.2" class="xl" text-anchor="middle">2023 Jan</text><text x="275" y="404.2" class="xl" text-anchor="middle">2023 May</text><text x="332" y="404.2" class="xl" text-anchor="middle">2023 Sep</text><text x="389.5" y="404.2" class="xl" text-anchor="middle">2024 Jan</text><text x="445.5" y="404.2" class="xl" text-anchor="middle">2024 May</text><text x="503" y="404.2" class="xl" text-anchor="middle">2024 Sep</text><text x="560.5" y="404.2" class="xl" text-anchor="middle">2025 Jan</text><text x="616.5" y="404.2" class="xl" text-anchor="middle">2025 May</text><text x="674" y="404.2" class="xl" text-anchor="middle">2025 Sep</text>
<text transform="translate(748.2,209) rotate(90)" class="pr" textLength="22" lengthAdjust="spacingAndGlyphs">Price</text>
<text x="657.5" y="417" class="cp" textLength="98" lengthAdjust="spacingAndGlyphs">© CryptoQuant. All rights reserved</text>
</g>
</svg>
</body></html>
